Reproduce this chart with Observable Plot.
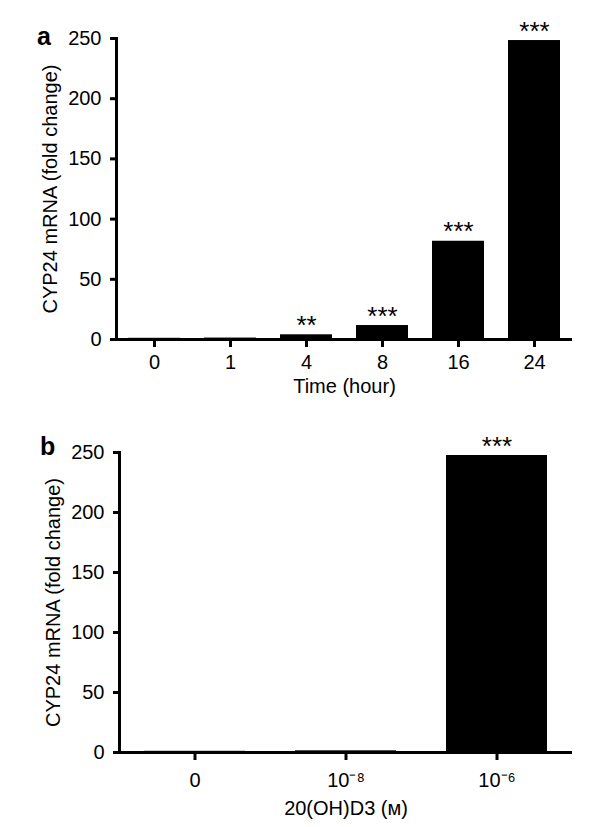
<!DOCTYPE html>
<html>
<head>
<meta charset="utf-8">
<script src="https://cdn.jsdelivr.net/npm/d3@7"></script>
<script src="https://cdn.jsdelivr.net/npm/@observablehq/plot@0.6"></script>
<style>
  html, body { margin: 0; padding: 0; background: #fff; }
  #wrap { position: relative; width: 604px; height: 827px; font-family: "Liberation Sans", Arial, sans-serif; }
  .panel { position: absolute; left: 0; }
  .plabel { position: absolute; font-weight: bold; font-size: 25px; line-height: 24px; color: #000; }
  svg { display: block; }
</style>
</head>
<body>
<div id="wrap">
  <div class="panel" id="pa" style="top:0"></div>
  <div class="panel" id="pb" style="top:400px"></div>
  <div class="plabel" style="left:37px; top:24px">a</div>
  <div class="plabel" style="left:40px; top:434px">b</div>
</div>
<script>
// Panel a: time course
const timeLabels = ["0", "1", "4", "8", "16", "24"];
const timeValues = [1.0, 1.2, 3.9, 11.6, 81.6, 248.3];
const timeSig = ["", "", "**", "***", "***", "***"];

// Panel b: dose
const doseLabels = ["0", "10\u207B\u2078", "10\u207B\u2076"];
const doseValues = [1.0, 1.4, 247.5];
const doseSig = ["", "", "***"];

const yTicks = [0, 50, 100, 150, 200, 250];
const yLabel = "CYP24 mRNA (fold change)";
const xLabelA = "Time (hour)";
const xLabelB = "20(OH)D3 (\u1D0D)";

const FONT = "Liberation Sans, Arial, sans-serif";

function panel({labels, values, sig, xLabel, height, mt, mb, ml, mr, pInner, pOuter, xPad, xLabelOffset}) {
  const data = labels.map((c, i) => ({c, v: values[i], s: sig[i]}));
  return Plot.plot({
    width: 604,
    height,
    marginTop: mt,
    marginBottom: mb,
    marginLeft: ml,
    marginRight: mr,
    style: {fontFamily: FONT, fontSize: "20.5px", color: "#000", background: "#fff"},
    x: {domain: labels, paddingInner: pInner, paddingOuter: pOuter},
    y: {domain: [0, 250]},
    marks: [
      Plot.barY(data, {x: "c", y: "v", fill: "#000"}),
      Plot.text(data, {x: "c", y: "v", text: "s", lineAnchor: "bottom", dy: -1, fontSize: 26, fill: "#000"}),
      Plot.ruleY([0], {stroke: "#000", strokeWidth: 3}),
      Plot.frame({anchor: "left", stroke: "#000", strokeWidth: 3}),
      Plot.axisY({ticks: yTicks, tickSize: 6, tickPadding: 9, strokeWidth: 3, fontSize: 20,
        label: yLabel, labelAnchor: "center", labelArrow: false, labelOffset: 74}),
      Plot.axisX({tickSize: 8, tickPadding: xPad, strokeWidth: 3, fontSize: 20,
        label: xLabel, labelAnchor: "center", labelArrow: false, labelOffset: xLabelOffset})
    ]
  });
}

document.getElementById("pa").appendChild(panel({
  labels: timeLabels, values: timeValues, sig: timeSig, xLabel: xLabelA,
  height: 400, mt: 38, mb: 61, ml: 116, mr: 32, pInner: 0.32, pOuter: 0.16, xPad: 7, xLabelOffset: 53
}));
document.getElementById("pb").appendChild(panel({
  labels: doseLabels, values: doseValues, sig: doseSig, xLabel: xLabelB,
  height: 427, mt: 52, mb: 75, ml: 119, mr: 32, pInner: 0.33, pOuter: 0.165, xPad: 12, xLabelOffset: 62
}));
</script>
</body>
</html>
